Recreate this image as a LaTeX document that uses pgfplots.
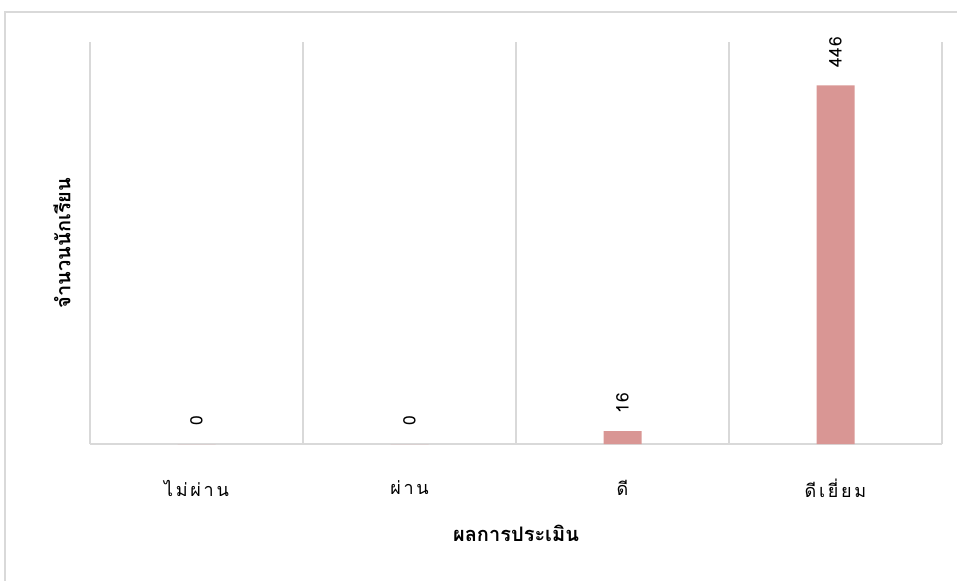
\documentclass[border=0pt]{standalone}
\usepackage{fontspec}
\usepackage{pgfplots}
\pgfplotsset{compat=1.18}
\setmainfont[Script=Thai]{Loma}
\newfontfamily\spaced[Script=Thai,LetterSpace=15]{Loma}
\newfontfamily\nums[LetterSpace=4]{Loma}
\definecolor{barred}{HTML}{D99694}
\definecolor{gridgray}{HTML}{D9D9D9}
\definecolor{framegray}{HTML}{D9D9D9}
\definecolor{txt}{HTML}{000000}

\begin{document}
\begin{tikzpicture}[x=0.75pt,y=0.75pt]
% picture is 957 x 581 px, 1 px = 0.75pt
\begin{axis}[
  at={(67.5pt,-333pt)}, anchor=south west,
  scale only axis, width=639pt, height=301.5pt,
  ybar, bar width=28.5pt,
  xmin=-0.5, xmax=3.5, ymin=0, ymax=500,
  xtick={0,1,2,3},
  xticklabels={ไม่ผ่าน,ผ่าน,ดี,ดีเยี่ยม},
  minor xtick={-0.5,0.5,1.5,2.5,3.5},
  xminorgrids, minor grid style={gridgray,line width=0.9pt},
  axis x line=bottom, axis y line=left,
  x axis line style={gridgray,line width=1.2pt,-},
  y axis line style={draw=none},
  major tick length=0pt, minor tick length=0pt,
  ytick=\empty,
  /pgf/number format/assume math mode=true,
  xticklabel style={font=\spaced\fontsize{13.5}{15}\selectfont, anchor=center, yshift=-33pt, text=txt},
  xlabel={\bfseries ผลการประเมิน},
  ylabel={\bfseries จำนวนนักเรียน},
  xlabel style={at={(axis description cs:0.5,-0.2214)}, anchor=center, font=\fontsize{15}{17}\selectfont},
  ylabel style={at={(axis description cs:-0.0329,0.5)}, anchor=center, rotate=0, font=\fontsize{15}{17}\selectfont},
  nodes near coords,
  every node near coord/.append style={rotate=90, anchor=west, xshift=10pt,
    font=\nums\fontsize{13}{15}\selectfont, text=txt},
  clip=false,
]
\addplot[fill=barred, draw=none] coordinates {(0,0) (1,0) (2,16) (3,446)};
\end{axis}
\draw[framegray,line width=1.2pt] (5,-590) -- (5,-12) -- (970,-12);
\pgfresetboundingbox
\path[use as bounding box] (0,0) rectangle (957,-581);
\end{tikzpicture}
\end{document}
